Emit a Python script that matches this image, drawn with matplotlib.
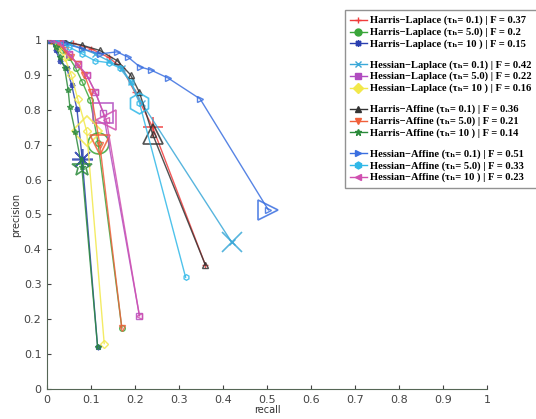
import matplotlib.pyplot as plt
from matplotlib.lines import Line2D

# labels (detector, threshold, F score)
labels = [
    'Harris−Laplace (τₕ= 0.1) | F = 0.37',
    'Harris−Laplace (τₕ= 5.0) | F = 0.2',
    'Harris−Laplace (τₕ= 10 ) | F = 0.15',
    'Hessian−Laplace (τₕ= 0.1) | F = 0.42',
    'Hessian−Laplace (τₕ= 5.0) | F = 0.22',
    'Hessian−Laplace (τₕ= 10 ) | F = 0.16',
    'Harris−Affine (τₕ= 0.1) | F = 0.36',
    'Harris−Affine (τₕ= 5.0) | F = 0.21',
    'Harris−Affine (τₕ= 10 ) | F = 0.14',
    'Hessian−Affine (τₕ= 0.1) | F = 0.51',
    'Hessian−Affine (τₕ= 5.0) | F = 0.33',
    'Hessian−Affine (τₕ= 10 ) | F = 0.23',
]

# recall / precision for each curve
recall = [
    [0.01, 0.03, 0.06, 0.10, 0.14, 0.17, 0.20, 0.24, 0.36],
    [0.01, 0.02, 0.035, 0.05, 0.065, 0.08, 0.098, 0.116, 0.17],
    [0.01, 0.02, 0.03, 0.045, 0.056, 0.068, 0.08, 0.115],
    [0.02, 0.05, 0.08, 0.11, 0.14, 0.17, 0.19, 0.215, 0.42],
    [0.01, 0.03, 0.05, 0.07, 0.09, 0.11, 0.128, 0.21],
    [0.01, 0.025, 0.04, 0.055, 0.07, 0.09, 0.13],
    [0.01, 0.04, 0.08, 0.12, 0.16, 0.19, 0.21, 0.24, 0.36],
    [0.01, 0.025, 0.04, 0.055, 0.07, 0.085, 0.10, 0.12, 0.17],
    [0.01, 0.02, 0.03, 0.04, 0.048, 0.052, 0.064, 0.079, 0.115],
    [0.01, 0.04, 0.08, 0.12, 0.159, 0.184, 0.211, 0.236, 0.275, 0.348, 0.503],
    [0.02, 0.05, 0.08, 0.11, 0.14, 0.165, 0.19, 0.21, 0.315],
    [0.01, 0.03, 0.05, 0.07, 0.09, 0.11, 0.135, 0.21],
]
precision = [
    [1.0, 0.995, 0.99, 0.975, 0.95, 0.92, 0.85, 0.75, 0.355],
    [1.0, 0.99, 0.97, 0.95, 0.92, 0.88, 0.828, 0.705, 0.175],
    [1.0, 0.97, 0.94, 0.92, 0.871, 0.802, 0.66, 0.12],
    [1.0, 0.99, 0.975, 0.96, 0.94, 0.92, 0.88, 0.82, 0.42],
    [1.0, 0.99, 0.96, 0.93, 0.90, 0.85, 0.79, 0.21],
    [1.0, 0.98, 0.95, 0.90, 0.83, 0.74, 0.13],
    [1.0, 0.995, 0.985, 0.97, 0.94, 0.90, 0.85, 0.73, 0.355],
    [1.0, 0.99, 0.97, 0.95, 0.93, 0.90, 0.85, 0.70, 0.175],
    [1.0, 0.98, 0.95, 0.92, 0.857, 0.808, 0.737, 0.637, 0.12],
    [1.0, 0.99, 0.975, 0.96, 0.966, 0.951, 0.923, 0.914, 0.891, 0.831, 0.513],
    [1.0, 0.98, 0.96, 0.94, 0.935, 0.92, 0.88, 0.82, 0.32],
    [1.0, 0.99, 0.96, 0.93, 0.90, 0.85, 0.77, 0.21],
]
# index of best-F point (big marker)
best = [7, 7, 6, 8, 6, 5, 7, 7, 7, 10, 7, 6]

colors = ['#f03c3c', '#3aa63a', '#2a3fb0', '#3aa8d8', '#b04cc0', '#f2e84a',
          '#333333', '#f0603a', '#2a8a3a', '#3a6fe0', '#30b8e8', '#d050b0']
markers = ['+', 'o', (8, 2, 0), 'x', 's', 'D', '^', 'v', '*', '>', 'h', '<']

fig = plt.figure(figsize=(5.36, 4.19), dpi=100)
ax = fig.add_axes([0.0877, 0.0716, 0.821, 0.833])

handles = []
for i in range(12):
    ax.plot(recall[i], precision[i], color=colors[i], marker=markers[i],
            markersize=4, markerfacecolor='none', linewidth=1, alpha=0.85)
    b = best[i]
    ax.plot(recall[i][b], precision[i][b], color=colors[i], marker=markers[i],
            markersize=15, markerfacecolor='none', markeredgewidth=1.2, alpha=0.85)
    handles.append(Line2D([], [], color=colors[i], marker=markers[i],
                          markersize=5, linewidth=1))

ax.set_xlim(0, 1)
ax.set_ylim(0, 1)
ax.set_xticks([i / 10 for i in range(11)])
ax.set_yticks([i / 10 for i in range(11)])
ax.set_xticklabels(['0', '0.1', '0.2', '0.3', '0.4', '0.5', '0.6', '0.7', '0.8', '0.9', '1'])
ax.set_yticklabels(['0', '0.1', '0.2', '0.3', '0.4', '0.5', '0.6', '0.7', '0.8', '0.9', '1'])
ax.tick_params(direction='in', length=3, labelsize=8, colors='#444444', pad=4)
for s in ['top', 'right']:
    ax.spines[s].set_visible(False)
for s in ['left', 'bottom']:
    ax.spines[s].set_color('#556655')
ax.set_xlabel('recall', fontsize=7, labelpad=0, color='#333333')
ax.set_ylabel('precision', fontsize=7, labelpad=2, color='#333333')

# legend with gaps between groups
blank = Line2D([], [], linestyle='none')
leg_h, leg_l = [], []
for g in range(4):
    if g > 0:
        leg_h.append(blank)
        leg_l.append(' ')
    leg_h += handles[g * 3:g * 3 + 3]
    leg_l += labels[g * 3:g * 3 + 3]
leg = fig.legend(leg_h, leg_l, loc='upper left', bbox_to_anchor=(0.633, 0.988),
                 prop={'family': ['Liberation Serif', 'DejaVu Serif'], 'weight': 'bold', 'size': 7.6},
                 handlelength=1.6, handleheight=0.35, handletextpad=0.3, labelspacing=0.2,
                 borderpad=0.5, frameon=True, fancybox=False, edgecolor='#777777')
for t in leg.get_texts():
    if t.get_text() == ' ':
        t.set_fontsize(3)

fig.savefig('out.png', dpi=100)
